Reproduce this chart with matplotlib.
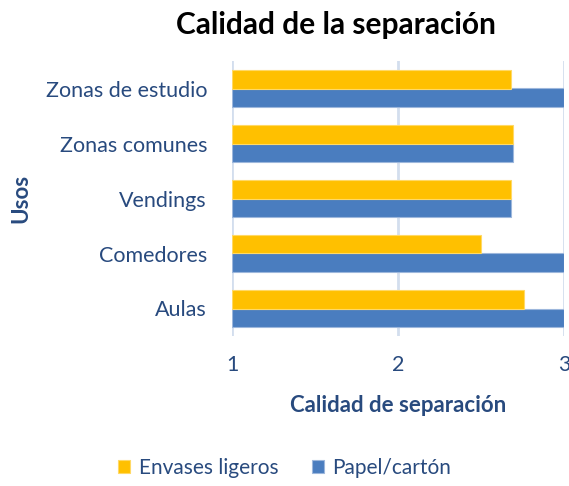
import matplotlib.pyplot as plt
import numpy as np

plt.rcParams['font.family'] = ['Lato', 'DejaVu Sans']

usos = ['Aulas', 'Comedores', 'Vendings', 'Zonas comunes', 'Zonas de estudio']
envases = [2.76, 2.50, 2.68, 2.69, 2.68]
papel = [3.0, 3.0, 2.68, 2.69, 3.0]

azul_texto = '#284A7E'

fig = plt.figure(figsize=(5.69, 4.86), dpi=100)
ax = fig.add_axes([232 / 569, 1 - 336 / 486, 332 / 569, 275 / 486])

y = np.arange(len(usos))
h = 0.33
# papel abajo, envases arriba
ax.barh(y - h / 2, np.array(papel) - 1, left=1, height=h, color='#4A7DBF',
        edgecolor='#9DB7DC', linewidth=0.8, label='Papel/cartón', zorder=3)
ax.barh(y + h / 2, np.array(envases) - 1, left=1, height=h, color='#FFC000',
        edgecolor='#FFD966', linewidth=0.8, label='Envases ligeros', zorder=3)

ax.set_xlim(1, 3)
ax.set_ylim(-0.5, 4.5)
ax.set_xticks([1, 2, 3])
ax.set_yticks(y)
ax.set_yticklabels(usos)
ax.grid(axis='x', color='#D3DEEE', linewidth=2, zorder=0)
for s in ax.spines.values():
    s.set_visible(False)
ax.tick_params(length=0, colors=azul_texto, labelsize=15.5)
ax.tick_params(axis='x', pad=14)
ax.tick_params(axis='y', pad=18)

ax.set_xlabel('Calidad de separación', fontsize=16, fontweight='bold',
              color=azul_texto, labelpad=14)
ax.set_ylabel('Usos', fontsize=16, fontweight='bold', color=azul_texto)
ax.yaxis.set_label_coords(-0.605, 0.5)

fig.text(0.59, 0.949, 'Calidad de la separación', ha='center', va='center',
         fontsize=21.5, fontweight='bold', color='black')

handles, labels = ax.get_legend_handles_labels()
fig.legend(handles[::-1], labels[::-1], loc='center', bbox_to_anchor=(0.5, 0.037),
           ncol=2, frameon=False, fontsize=15, handlelength=0.6, handleheight=0.6,
           columnspacing=1.6, handletextpad=0.4, labelcolor=azul_texto)

fig.savefig('out.png', dpi=100)
